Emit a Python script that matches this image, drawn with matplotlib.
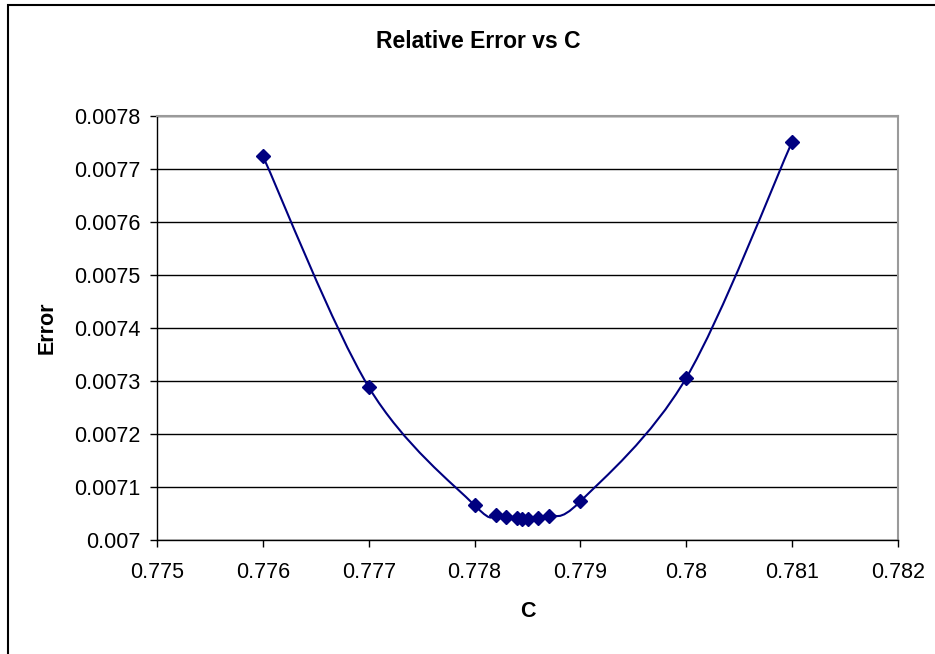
import matplotlib
matplotlib.use('Agg')
import matplotlib.pyplot as plt
import numpy as np
from matplotlib.path import Path
from matplotlib.patches import PathPatch, Rectangle
from matplotlib.ticker import FuncFormatter, MultipleLocator

plt.rcParams['font.family'] = ['Liberation Sans', 'DejaVu Sans']

c_values = [0.776, 0.777, 0.778, 0.7782, 0.7783, 0.7784, 0.77845, 0.7785,
            0.7786, 0.7787, 0.779, 0.780, 0.781]
err_values = [0.0077245, 0.0072885, 0.0070655, 0.0070470, 0.0070440,
              0.0070420, 0.0070405, 0.0070400, 0.0070420, 0.0070460,
              0.0070730, 0.0073060, 0.0077515]

navy = '#000080'


def smooth_path(ax, xs, ys, tension=1 / 6):
    # Excel-like smoothed line: cubic Bezier through the points, built in pixel space
    pts = ax.transData.transform(np.column_stack([xs, ys]))
    verts = [pts[0]]
    codes = [Path.MOVETO]
    n = len(pts)
    for i in range(n - 1):
        p0 = pts[max(i - 1, 0)]
        p1 = pts[i]
        p2 = pts[i + 1]
        p3 = pts[min(i + 2, n - 1)]
        c1 = p1 + (p2 - p0) * tension
        c2 = p2 - (p3 - p1) * tension
        verts += [c1, c2, p2]
        codes += [Path.CURVE4] * 3
    verts = ax.transData.inverted().transform(np.array(verts))
    return Path(verts, codes)


fig = plt.figure(figsize=(9.35, 6.54), dpi=100)
fig.patches.append(Rectangle((8 / 935, -0.1), 1.2, (654 - 5) / 654 + 0.1,
                             transform=fig.transFigure, fill=False,
                             edgecolor='black', linewidth=1.5))

ax = fig.add_axes([157 / 935, (654 - 540) / 654, (898 - 157) / 935, (540 - 116) / 654])
ax.set_xlim(0.775, 0.782)
ax.set_ylim(0.007, 0.0078)
ax.xaxis.set_major_locator(MultipleLocator(0.001))
ax.yaxis.set_major_locator(MultipleLocator(0.0001))
fmt = FuncFormatter(lambda v, p: '{:g}'.format(round(v, 7)))
ax.xaxis.set_major_formatter(fmt)
ax.yaxis.set_major_formatter(fmt)

ax.grid(True, axis='y', color='black', linewidth=1)
ax.set_axisbelow(True)
for side in ['top', 'right']:
    ax.spines[side].set_color('#9a9a9a')
    ax.spines[side].set_linewidth(1.5)
for side in ['left', 'bottom']:
    ax.spines[side].set_color('black')
    ax.spines[side].set_linewidth(1)

ax.tick_params(direction='out', length=5, width=1, labelsize=15.5)
ax.tick_params(axis='x', pad=11)
ax.tick_params(axis='y', pad=7)

fig.canvas.draw()
ax.add_patch(PathPatch(smooth_path(ax, c_values, err_values), fill=False,
                       edgecolor=navy, linewidth=1.5))
ax.plot(c_values, err_values, linestyle='none', marker='D', markersize=7,
        color=navy)

# chart title is centred on the whole chart area, not on the plot area
fig.text(478 / 935, 1 - 42 / 654, 'Relative Error vs C', fontsize=16.5,
         fontweight='bold', ha='center', va='center')
ax.set_xlabel('C', fontsize=15.5, fontweight='bold', labelpad=12.5)
ax.set_ylabel('Error', fontsize=15.5, fontweight='bold', labelpad=12)

fig.savefig('out.png', dpi=100)
